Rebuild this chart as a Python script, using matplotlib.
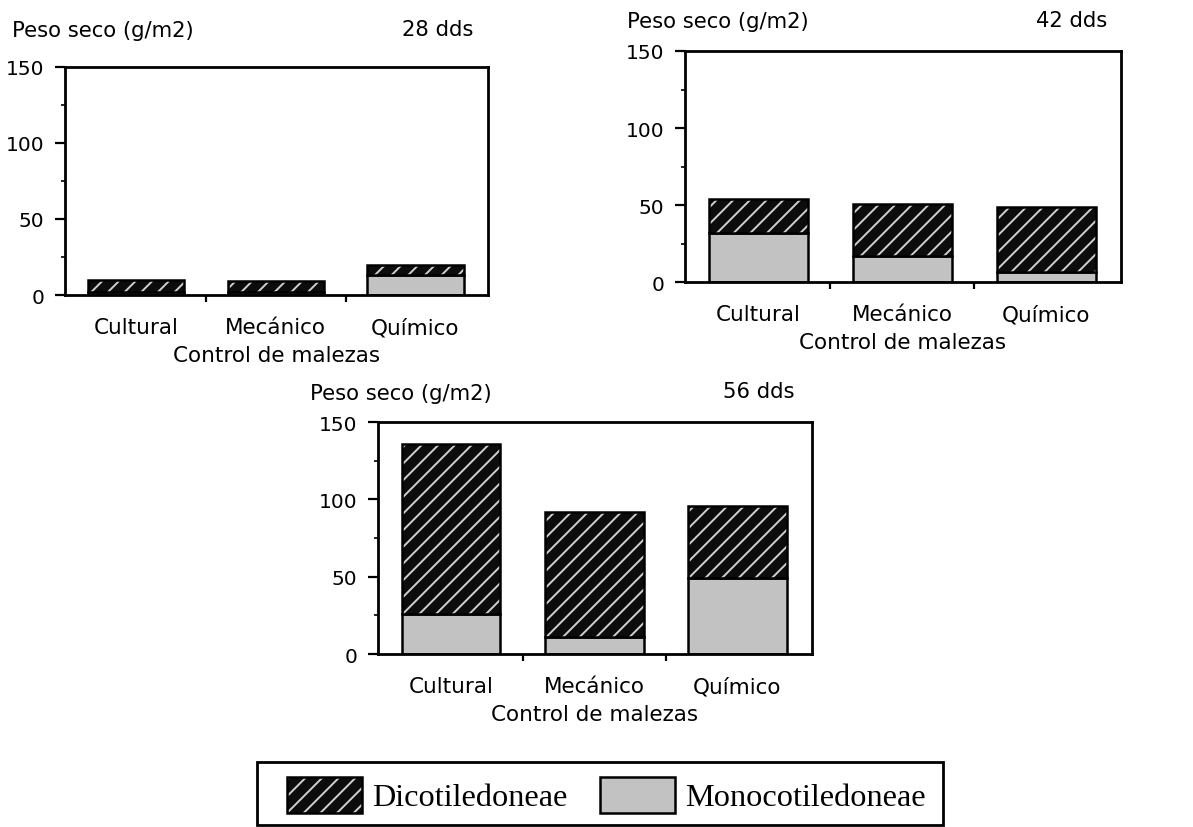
import numpy as np
import matplotlib
matplotlib.use("Agg")
import matplotlib.pyplot as plt
from matplotlib.patches import Patch, Rectangle

plt.rcParams["hatch.linewidth"] = 1.4

categorias = ["Cultural", "Mecánico", "Químico"]

# peso seco (g/m2) por fecha de muestreo
mono_28 = [2, 2, 13]
dico_28 = [8, 7, 7]
mono_42 = [32, 17, 6.5]
dico_42 = [22, 33.5, 42.5]
mono_56 = [26, 11, 49]
dico_56 = [110, 81, 47]

titulos = ["28 dds", "42 dds", "56 dds"]

gris = "#c2c2c2"
oscuro = "#0c0c0c"
claro = "#cfcfcf"

fig = plt.figure(figsize=(11.93, 8.28), dpi=100)

# [left, bottom, width, height] en fraccion de figura
posiciones = [
    [0.0545, 0.6425, 0.3546, 0.2754],
    [0.5742, 0.6582, 0.3655, 0.2790],
    [0.3168, 0.2089, 0.3638, 0.2802],
]
# desplazamientos del titulo (px) respecto a la esquina del eje
off_izq = [(-53, 37), (-58, 30), (-68, 29)]
off_der = [(-15, 38), (-14, 31), (-17, 31)]

datos = [(mono_28, dico_28), (mono_42, dico_42), (mono_56, dico_56)]

for i in range(3):
    ax = fig.add_axes(posiciones[i])
    mono, dico = datos[i]
    x = np.arange(len(categorias))
    w = 0.69
    ax.bar(x, mono, width=w, color=gris, edgecolor="black", linewidth=1.8, zorder=2)
    ax.bar(x, dico, bottom=mono, width=w, color=oscuro, edgecolor=claro,
           hatch="//", linewidth=0, zorder=2)
    ax.bar(x, dico, bottom=mono, width=w, fill=False, edgecolor="black",
           linewidth=1.8, zorder=3)

    ax.set_xlim(-0.51, 2.52)
    ax.set_ylim(0, 150)
    ax.set_yticks([0, 50, 100, 150])
    ax.set_yticks([25, 75, 125], minor=True)
    ax.set_xticks(x)
    ax.set_xticklabels(categorias, fontsize=15.5)
    ax.set_xticks([0.5, 1.5], minor=True)
    ax.tick_params(axis="y", which="major", length=7, width=1.6, pad=8, labelsize=14.5)
    ax.tick_params(axis="y", which="minor", length=3, width=1.2)
    ax.tick_params(axis="x", which="major", length=0, pad=16)
    ax.tick_params(axis="x", which="minor", length=5, width=1.6)
    for s in ax.spines.values():
        s.set_linewidth(2)

    ax.annotate("Peso seco (g/m2)", xy=(0, 1), xycoords="axes fraction",
                xytext=(off_izq[i][0] * 0.72, off_izq[i][1] * 0.72),
                textcoords="offset points", ha="left", va="center", fontsize=15.2)
    ax.annotate(titulos[i], xy=(1, 1), xycoords="axes fraction",
                xytext=(off_der[i][0] * 0.72, off_der[i][1] * 0.72),
                textcoords="offset points", ha="right", va="center", fontsize=15.2)
    ax.annotate("Control de malezas", xy=(0.5, 0), xycoords="axes fraction",
                xytext=(0, -60 * 0.72), textcoords="offset points",
                ha="center", va="center", fontsize=15.5)

# leyenda: marco dibujado aparte para ajustar los margenes
marco = Rectangle((257 / 1193, 1 - 826 / 828), 686 / 1193, 63 / 828,
                  transform=fig.transFigure, fill=False, edgecolor="black",
                  linewidth=2)
fig.patches.append(marco)

h_dico = (Patch(facecolor=oscuro, edgecolor=claro, hatch="//", linewidth=0),
          Patch(fill=False, edgecolor="black", linewidth=1.8))
h_mono = Patch(facecolor=gris, edgecolor="black", linewidth=1.8)
leg = fig.legend([h_dico, h_mono], ["Dicotiledoneae", "Monocotiledoneae"],
                 loc="center", bbox_to_anchor=(0.5084, 0.0392), ncol=2,
                 prop={"family": "Liberation Serif", "size": 23.2},
                 frameon=False, handlelength=2.33, handleheight=1.34,
                 handletextpad=0.31, columnspacing=1.0, borderpad=0,
                 borderaxespad=0)

fig.savefig("out.png", dpi=100)
